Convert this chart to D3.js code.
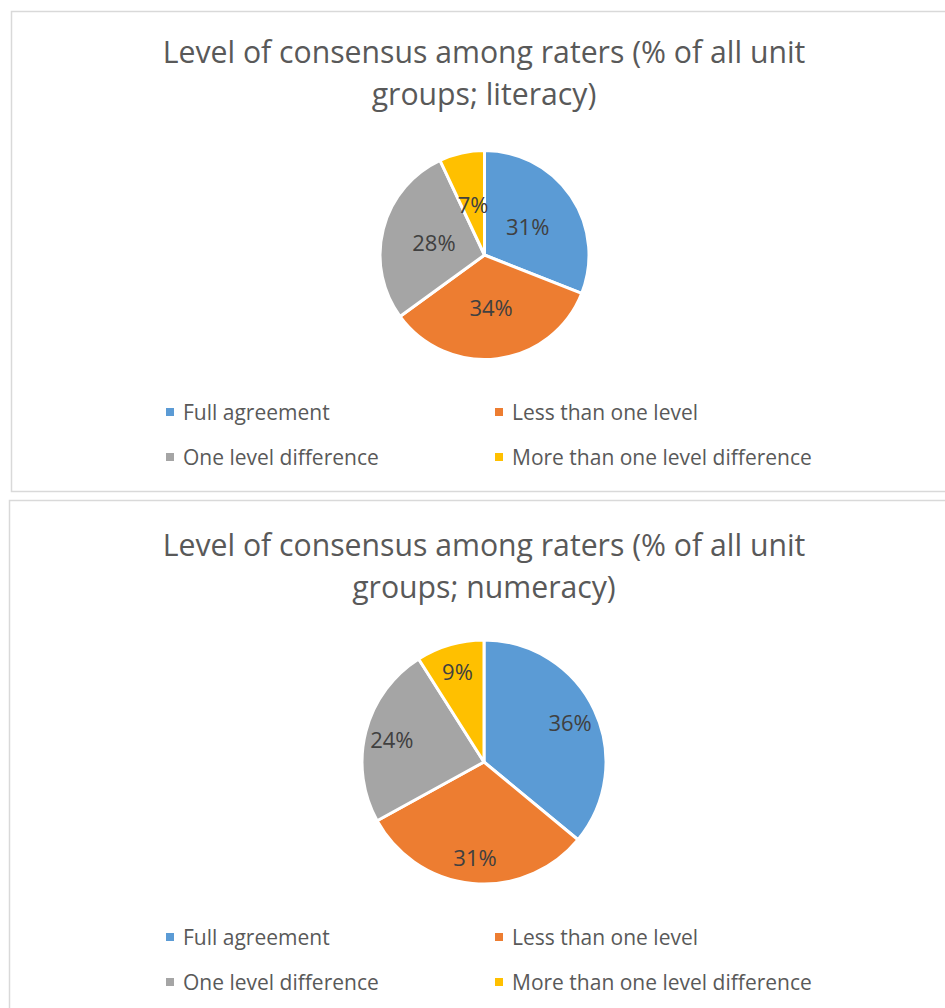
<!DOCTYPE html>
<html>
<head>
<meta charset="utf-8">
<script src="https://cdn.jsdelivr.net/npm/d3@7"></script>
<style>
  body { margin: 0; background: #fff; }
  svg { display: block; font-family: "Open Sans", "Noto Sans", sans-serif; }
</style>
</head>
<body>
<svg id="paint_field"></svg>
<script>
// данные
const categories = ["Full agreement", "Less than one level", "One level difference", "More than one level difference"];
const literacy_values = [31, 34, 28, 7];
const numeracy_values = [36, 31, 24, 9];
const slice_colors = ["#5B9BD5", "#ED7D31", "#A5A5A5", "#FFC000"];
const literacy_title = ["Level of consensus among raters (% of all unit", "groups; literacy)"];
const numeracy_title = ["Level of consensus among raters (% of all unit", "groups; numeracy)"];

const svg_width = 945, svg_height = 1008;
const svg = d3.select("#paint_field")
    .attr("width", svg_width)
    .attr("height", svg_height);

// рамки и положение для каждой диаграммы
const panels = [
    { title: literacy_title, values: literacy_values, box: [11, 11, 960, 480],
      titleY: 63, cx: 484.5, cy: 255, r: 104.5, labelRatio: 0.5, legendY: 412 },
    { title: numeracy_title, values: numeracy_values, box: [9, 500, 960, 540],
      titleY: 556, cx: 484, cy: 762, r: 122, labelRatio: 0.78, legendY: 937 }
];

function drawPanel(p) {
    const g = svg.append("g");

    g.append("rect")
        .attr("x", p.box[0] + 0.5)
        .attr("y", p.box[1] + 0.5)
        .attr("width", p.box[2])
        .attr("height", p.box[3])
        .attr("fill", "#fff")
        .attr("stroke", "#D9D9D9")
        .attr("stroke-width", 1.5);

    // заголовок
    g.selectAll(".title")
        .data(p.title)
        .join("text")
        .attr("class", "title")
        .attr("x", 484)
        .attr("y", (d, i) => p.titleY + i * 42)
        .attr("text-anchor", "middle")
        .attr("font-size", 30.2)
        .attr("fill", "#595959")
        .text(d => d);

    const pie = d3.pie().sort(null).value(d => d);
    const arcs = pie(p.values);
    const arc = d3.arc().innerRadius(0).outerRadius(p.r);
    const labelArc = d3.arc().innerRadius(p.r * p.labelRatio).outerRadius(p.r * p.labelRatio);

    const pieG = g.append("g").attr("transform", `translate(${p.cx},${p.cy})`);

    pieG.selectAll("path")
        .data(arcs)
        .join("path")
        .attr("d", arc)
        .attr("fill", (d, i) => slice_colors[i])
        .attr("stroke", "#fff")
        .attr("stroke-width", 3)
        .attr("stroke-linejoin", "round");

    pieG.selectAll(".lbl")
        .data(arcs)
        .join("text")
        .attr("class", "lbl")
        .attr("transform", d => `translate(${labelArc.centroid(d)})`)
        .attr("text-anchor", "middle")
        .attr("dy", "0.42em")
        .attr("font-size", 22)
        .attr("fill", "#404040")
        .text(d => d.data + "%");

    // легенда 2x2
    const legX = d3.scaleOrdinal().domain([0, 1]).range([166, 495]);
    const leg = g.selectAll(".leg")
        .data(categories)
        .join("g")
        .attr("class", "leg")
        .attr("transform", (d, i) => `translate(${legX(i % 2)},${p.legendY + Math.floor(i / 2) * 45})`);

    leg.append("rect")
        .attr("x", 0)
        .attr("y", -4)
        .attr("width", 8)
        .attr("height", 8)
        .attr("fill", (d, i) => slice_colors[i]);

    leg.append("text")
        .attr("x", 17)
        .attr("dy", "0.36em")
        .attr("font-size", 21)
        .attr("fill", "#595959")
        .text(d => d);
}

panels.forEach(drawPanel);
</script>
</body>
</html>
